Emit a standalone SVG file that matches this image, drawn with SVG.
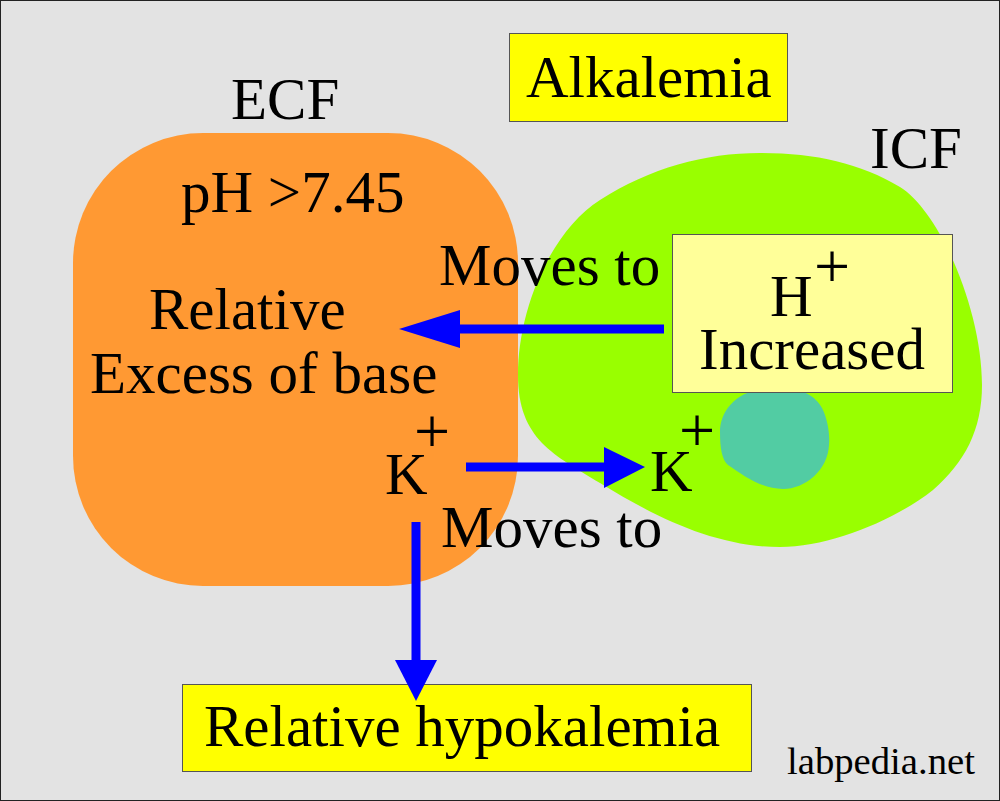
<svg xmlns="http://www.w3.org/2000/svg" width="1000" height="801" viewBox="0 0 1000 801">
<style>
text{font-family:"Liberation Serif","Times New Roman",serif;fill:#000}
.t{font-size:59px}
.p{font-size:64px}
.c{stroke:#0000ff;stroke-width:9;fill:none}
.h{fill:#0000ff}
.b{stroke:#555;stroke-width:1}
</style>
<rect x="0.500" y="0.500" width="999" height="800" fill="#e3e3e3" stroke="#222"/>
<g id="ecf"><rect x="73" y="133" width="445" height="453" rx="130" ry="130" fill="#ff9933"/></g>
<g id="icf"><path d="M518 375C518 310 550 232 600 200C650 168 705 153 760 153C815 153 860 163 900 187C940 212 982 310 982 385C982 430 965 462 933 490C895 520 830 547 780 547C715 547 655 517 600 483C555 455 518 440 518 375Z" fill="#99ff00"/></g>
<g id="nucleus"><path d="M720 432C720 412 735 390 770 388C800 386 815 395 822 408C828 420 830 435 829 445C828 470 805 489 783 489C762 489 744 476 728 465C722 460 720 448 720 432Z" fill="#52cca3"/></g>
<g id="alkalemia"><rect class="b" x="509.500" y="33.500" width="278" height="88" fill="#ffff00"/><text class="t" x="526" y="97">Alkalemia</text></g>
<g id="hbox"><rect class="b" x="672.500" y="234.500" width="280" height="158" fill="#ffff99"/><text class="t" x="770" y="316">H</text><text class="p" x="814" y="288">+</text><text class="t" x="699" y="369">Increased</text></g>
<g id="hypo"><rect class="b" x="182.500" y="684.500" width="569" height="87" fill="#ffff00"/><text class="t" x="204" y="746">Relative hypokalemia</text></g>
<g id="labels">
<text class="t" x="231" y="119">ECF</text>
<text class="t" x="870" y="168">ICF</text>
<text class="t" x="181" y="212">pH &gt;7.45</text>
<text class="t" x="439" y="285">Moves to</text>
<text class="t" x="149" y="329">Relative</text>
<text class="t" x="90" y="393">Excess of base</text>
<text class="t" x="385" y="494">K</text>
<text class="p" x="414" y="453">+</text>
<text class="t" x="650" y="491">K</text>
<text class="p" x="679" y="452">+</text>
<text class="t" x="441" y="547">Moves to</text>
<text x="787" y="774" font-size="38.700">labpedia.net</text>
</g>
<g id="connectors">
<line class="c" x1="664" y1="329" x2="455" y2="329"/><polygon class="h" points="399,329 460,310 460,348"/>
<line class="c" x1="466" y1="467" x2="610" y2="467"/><polygon class="h" points="645,467 604,447 604,488"/>
<line class="c" x1="416" y1="522" x2="416" y2="665"/><polygon class="h" points="416,701 395,660 437,660"/>
</g>
</svg>
